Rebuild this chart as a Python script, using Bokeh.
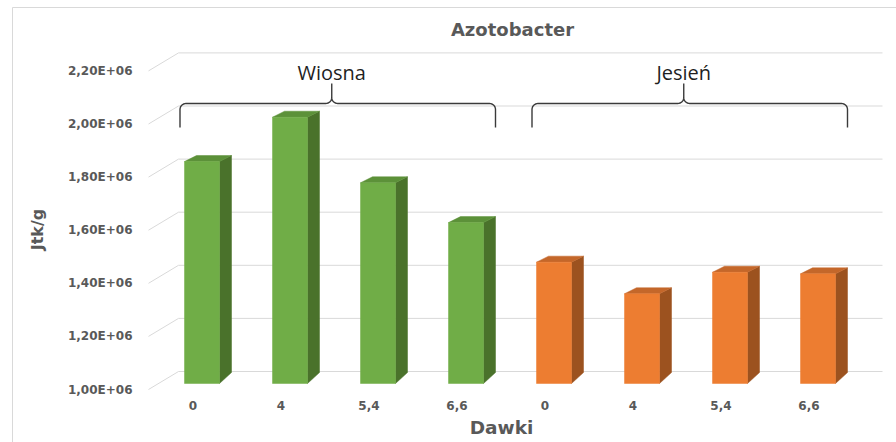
import math
from bokeh.plotting import figure
from bokeh.models import Range1d, Label
from bokeh.core.properties import value
from bokeh.embed import file_html
from bokeh.resources import INLINE

# ---- data -------------------------------------------------------------
title = "Azotobacter"
x_title = "Dawki"
y_title = "Jtk/g"
groups = ["Wiosna", "Jesień"]
doses = ["0", "4", "5,4", "6,6"]
wiosna = [1.836e6, 2.003e6, 1.756e6, 1.606e6]
jesien = [1.457e6, 1.338e6, 1.419e6, 1.413e6]
y_ticks = [1.0e6, 1.2e6, 1.4e6, 1.6e6, 1.8e6, 2.0e6, 2.2e6]
y_tick_labels = ["1,00E+06", "1,20E+06", "1,40E+06", "1,60E+06",
                 "1,80E+06", "2,00E+06", "2,20E+06"]
base = 1.0e6

# ---- layout -----------------------------------------------------------
W, H = 896, 442
SLOT = 88.0              # px between neighbouring columns
PX_PER_UNIT = 265.5 / 1e6
X0_PX = 201.5            # px column of the first category
BASE_PX = 383            # px row of the value axis base (from top)

LABEL_FONT = "DejaVu Sans"
GROUP_FONT = "Open Sans"
GREY = "#595959"
GRID = "#D9D9D9"

FACE = {"Wiosna": ("#70AD47", "#5C9139", "#4A722B"),
        "Jesień": ("#ED7D31", "#C4672A", "#9C521F")}


def dx(px):
    return px / SLOT


def dy(px):
    return px / PX_PER_UNIT


def y_at(px_from_top):
    return base + dy(BASE_PX - px_from_top)


x_range = Range1d(-X0_PX / SLOT, (W - X0_PX) / SLOT)
y_start = base - dy(H - BASE_PX)
y_range = Range1d(y_start, y_start + dy(H))

p = figure(width=W, height=H, x_range=x_range, y_range=y_range,
           x_axis_location=None, y_axis_location=None,
           toolbar_location=None, output_backend="svg",
           min_border=0, outline_line_color=None)
p.grid.visible = False
p.background_fill_color = "white"

# chart border (left and top edges visible)
bx = -X0_PX / SLOT + dx(12)
by = y_range.end - dy(7)
p.line([bx, bx, x_range.end + 1], [y_start - 1e6, by, by], line_color=GRID, line_width=1)

# ---- back wall gridlines with the 3D floor diagonal --------------------
wall_left = dx(178 - X0_PX)
wall_right = (len(doses) * 2 - 1) + dx(64.5)
gx, gy = [], []
for t in y_ticks:
    back = t + dy(12)
    gx.append([wall_left - dx(30), wall_left, wall_right])
    gy.append([t - dy(6), back, back])
p.multi_line(gx, gy, line_color=GRID, line_width=1)

p.text(x=[wall_left - dx(46)] * len(y_ticks), y=[t - dy(6) for t in y_ticks],
       text=y_tick_labels, text_font=value(LABEL_FONT), text_font_style="bold",
       text_font_size="12px", text_color=GREY,
       text_align="right", text_baseline="middle")

# ---- 3D columns --------------------------------------------------------
HALF = dx(17.5)
DEP_X = dx(12)
DEP_TOP = dy(6)
DEP_BOT = dy(11)

series = {"Wiosna": wiosna, "Jesień": jesien}
positions = {}
idx = 0
for g in groups:
    front, top, side = FACE[g]
    xs_c = []
    vals = series[g]
    for v in vals:
        xs_c.append(idx)
        idx += 1
    positions[g] = xs_c
    lefts = [c - HALF for c in xs_c]
    rights = [c + HALF for c in xs_c]
    side_xs = [[r, r + DEP_X, r + DEP_X, r] for r in rights]
    side_ys = [[base, base + DEP_BOT, v + DEP_TOP, v] for v in vals]
    top_xs = [[l, r, r + DEP_X, l + DEP_X] for l, r in zip(lefts, rights)]
    top_ys = [[v, v, v + DEP_TOP, v + DEP_TOP] for v in vals]
    p.patches(side_xs, side_ys, fill_color=side, line_color=side, line_width=0.5)
    p.patches(top_xs, top_ys, fill_color=top, line_color=top, line_width=0.5)
    p.quad(left=lefts, right=rights, bottom=base, top=vals,
           fill_color=front, line_color=front, line_width=0.5)

# ---- category labels ---------------------------------------------------
all_x = positions[groups[0]] + positions[groups[1]]
p.text(x=[c - dx(9) for c in all_x], y=[y_at(405)] * len(all_x),
       text=doses * len(groups), text_font=value(LABEL_FONT), text_font_style="bold",
       text_font_size="12px", text_color=GREY,
       text_align="center", text_baseline="middle")


# ---- curly braces above each season -----------------------------------
def arc(cx, cy, r, a0, a1, n=8):
    pts = []
    for k in range(n + 1):
        a = math.radians(a0 + (a1 - a0) * k / n)
        pts.append((cx + r * math.cos(a), cy + r * math.sin(a)))
    return pts


PEAK_SHIFT = 6  # px the brace tip sits left of the span centre


def brace(x_left, x_right, y_line):
    # geometry in px relative to (x_left, y_line); y grows upward
    w = (x_right - x_left) * SLOT
    m = w / 2 - PEAK_SHIFT
    r = 6
    pts = [(0, -24)]
    pts += arc(r, -r, r, 180, 90)
    pts += arc(m - r, r, r, -90, 0)
    pts += [(m, 20), (m, r)]
    pts += arc(m + r, r, r, 180, 270)
    pts += arc(w - r, -r, r, 90, 0)
    pts += [(w, -24)]
    return ([x_left + dx(px) for px, _ in pts], [y_line + dy(py) for _, py in pts])


BRACE_Y = y_at(103)
for g in groups:
    xs_c = positions[g]
    xl = xs_c[0] - HALF - dx(4.5)
    xr = xs_c[-1] + HALF + DEP_X
    bxs, bys = brace(xl, xr, BRACE_Y)
    p.line(bxs, bys, line_color="#3A3A3A", line_width=1.4)
    p.text(x=[(xl + xr) / 2 - dx(PEAK_SHIFT)], y=[BRACE_Y + dy(31)], text=[g],
           text_font=value(GROUP_FONT), text_font_size="20px", text_color="#1F1F1F",
           text_align="center", text_baseline="middle")

# ---- titles ------------------------------------------------------------
p.add_layout(Label(x=dx(512 - X0_PX), y=y_at(29), text=title,
                   text_font=LABEL_FONT, text_font_style="bold",
                   text_font_size="18px", text_color=GREY,
                   text_align="center", text_baseline="middle"))
p.add_layout(Label(x=dx(501 - X0_PX), y=y_at(427), text=x_title,
                   text_font=LABEL_FONT, text_font_style="bold",
                   text_font_size="18.5px", text_color=GREY,
                   text_align="center", text_baseline="middle"))
p.add_layout(Label(x=dx(37 - X0_PX), y=y_at(229), text=y_title,
                   text_font=LABEL_FONT, text_font_style="bold",
                   text_font_size="16px", text_color=GREY, angle=math.pi / 2,
                   text_align="center", text_baseline="middle"))

open("out.html", "w").write(file_html(p, INLINE))
